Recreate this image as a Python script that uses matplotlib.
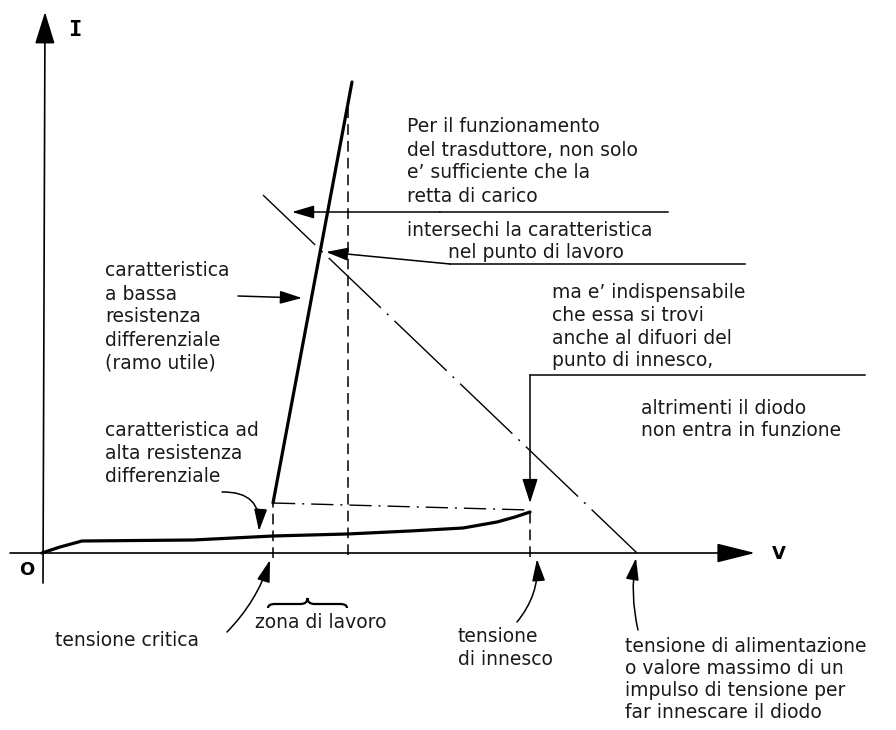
import matplotlib
matplotlib.use('Agg')
import matplotlib.pyplot as plt
from matplotlib.patches import FancyArrowPatch, PathPatch
from matplotlib.path import Path

# V to the right, I upward; origin where the two axes cross
low_branch_v = [0, 18, 40, 151, 231, 305, 368, 421, 455, 473, 488]
low_branch_i = [0, 6, 12, 13, 17, 19, 22, 25, 31, 36, 41]
high_branch_v = [231, 310]
high_branch_i = [50, 471]
load_line_v = [221, 595]
load_line_i = [358, 0]
link_v = [231, 488]
link_i = [50, 43]
v_critical = 231
v_work = 306
v_trigger = 488
i_work_top = 453

OX, OY = 42, 553  # origin position in the figure (pixels from top-left)


def at(px, py):
    """figure pixel (from top-left) -> data coordinates"""
    return px - OX, OY - py


def arrow(ax, a, b, rad=0.0, hl=1.35, hw=0.4, lw=1.1, scale=10):
    style = f'-|>,head_length={hl},head_width={hw}'
    p = FancyArrowPatch(a, b, arrowstyle=style, mutation_scale=scale,
                        connectionstyle=f'arc3,rad={rad}', color='black',
                        lw=lw, shrinkA=0, shrinkB=0, zorder=5)
    ax.add_patch(p)


def block(ax, lines, px, py, step, **kw):
    for k, line in enumerate(lines):
        x, y = at(px, py + k * step)
        ax.text(x, y, line, ha='left', va='center', **kw)


def brace(ax, v0, v1, i_end, i_arm, i_tip):
    vm = (v0 + v1) / 2
    q = 7
    verts = [(v0, i_end), (v0, i_arm), (v0 + q, i_arm),
             (vm - q, i_arm), (vm, i_arm), (vm, i_tip),
             (vm, i_arm), (vm + q, i_arm),
             (v1 - q, i_arm), (v1, i_arm), (v1, i_end)]
    codes = [Path.MOVETO, Path.CURVE3, Path.CURVE3,
             Path.LINETO, Path.CURVE3, Path.CURVE3,
             Path.CURVE3, Path.CURVE3,
             Path.LINETO, Path.CURVE3, Path.CURVE3]
    ax.add_patch(PathPatch(Path(verts, codes), fill=False, lw=1.6, color='black'))


def plot_diode_characteristic():
    plt.rcParams['font.family'] = ['DejaVu Sans']
    fig = plt.figure(figsize=(8.96, 7.30), dpi=100)
    ax = fig.add_axes([0, 0, 1, 1])
    ax.set_xlim(-OX, 896 - OX)
    ax.set_ylim(OY - 730, OY)
    ax.axis('off')

    # axes with arrows
    arrow(ax, (-32, 0), (713, 0), hl=2.4, hw=0.6, lw=1.2)
    arrow(ax, (1, -30), (3, 541), hl=2.0, hw=0.62, lw=1.2)
    ax.text(*at(75, 30), 'I', family='DejaVu Sans Mono', fontweight='bold',
            fontsize=16, ha='center', va='center')
    ax.text(*at(779, 554), 'V', fontweight='bold', fontsize=13,
            ha='center', va='center')
    ax.text(*at(27, 570), 'O', fontweight='bold', fontsize=13,
            ha='center', va='center')

    # characteristic
    ax.plot(low_branch_v, low_branch_i, color='black', lw=2.3,
            solid_capstyle='round', solid_joinstyle='round')
    ax.plot(high_branch_v, high_branch_i, color='black', lw=2.3,
            solid_capstyle='round')

    # load line
    ax.plot(load_line_v, load_line_i, color='black', lw=1.0,
            dashes=(52, 6, 1.5, 6))
    ax.plot(link_v, link_i, color='black', lw=1.0, dashes=(16, 5, 1.5, 5))

    # guide verticals
    ax.plot([v_critical, v_critical], [-5, high_branch_i[0]], color='black',
            lw=1.1, dashes=(7, 4))
    ax.plot([v_work, v_work], [-2, i_work_top], color='black', lw=1.1,
            dashes=(7, 4))
    ax.plot([v_trigger, v_trigger], [-4, low_branch_i[-1]], color='black',
            lw=1.1, dashes=(7, 4))

    fs = 13.5
    tc = '#1a1a1a'

    # top-right notes
    block(ax, ['Per il funzionamento', 'del trasduttore, non solo',
               'e’ sufficiente che la', 'retta di carico'],
          407, 127, 23, fontsize=fs, color=tc)
    ax.plot(*zip(at(668, 212), at(440, 212)), color='black', lw=1.1)
    arrow(ax, at(440, 212), at(292, 212))

    ax.text(*at(407, 230), 'intersechi la caratteristica', fontsize=fs,
            color=tc, ha='left', va='center')
    ax.text(*at(448, 253), 'nel punto di lavoro', fontsize=fs, color=tc,
            ha='left', va='center')
    ax.plot(*zip(at(745, 264), at(450, 264)), color='black', lw=1.1)
    arrow(ax, at(450, 264), at(326, 252))

    block(ax, ['ma e’ indispensabile', 'che essa si trovi',
               'anche al difuori del', 'punto di innesco,'],
          552, 293, 22.5, fontsize=fs, color=tc)
    ax.plot(*zip(at(865, 375), at(530, 375)), color='black', lw=1.1)
    arrow(ax, at(530, 375), (v_trigger, low_branch_i[-1] + 9), hl=1.5, hw=0.48)

    block(ax, ['altrimenti il diodo', 'non entra in funzione'],
          641, 408, 22, fontsize=fs, color=tc)

    # left notes
    block(ax, ['caratteristica', 'a bassa', 'resistenza', 'differenziale',
               '(ramo utile)'], 105, 271, 23, fontsize=fs, color=tc)
    arrow(ax, at(238, 296), at(302, 298))

    block(ax, ['caratteristica ad', 'alta resistenza', 'differenziale'],
          105, 430, 23.5, fontsize=fs, color=tc)
    arrow(ax, at(222, 492), at(259, 531), rad=-0.55)

    # below the V axis
    ax.text(*at(55, 640), 'tensione critica', fontsize=fs, color=tc,
            ha='left', va='center')
    arrow(ax, at(227, 632), at(270, 560), rad=0.12)

    brace(ax, v_critical - 5, v_work - 1, -55, -51, -45)
    ax.text(*at(255, 623), 'zona di lavoro', fontsize=fs, color=tc,
            ha='left', va='center')

    block(ax, ['tensione', 'di innesco'], 458, 636, 23.5, fontsize=fs, color=tc)
    arrow(ax, at(517, 622), at(537, 559), rad=0.2)

    block(ax, ['tensione di alimentazione', 'o valore massimo di un',
               'impulso di tensione per', 'far innescare il diodo'],
          625, 647, 21.7, fontsize=fs, color=tc)
    arrow(ax, at(638, 630), at(636, 558), rad=-0.1)

    fig.savefig('out.png', dpi=100, facecolor='white')
    return fig


if __name__ == "__main__":
    plot_diode_characteristic()
